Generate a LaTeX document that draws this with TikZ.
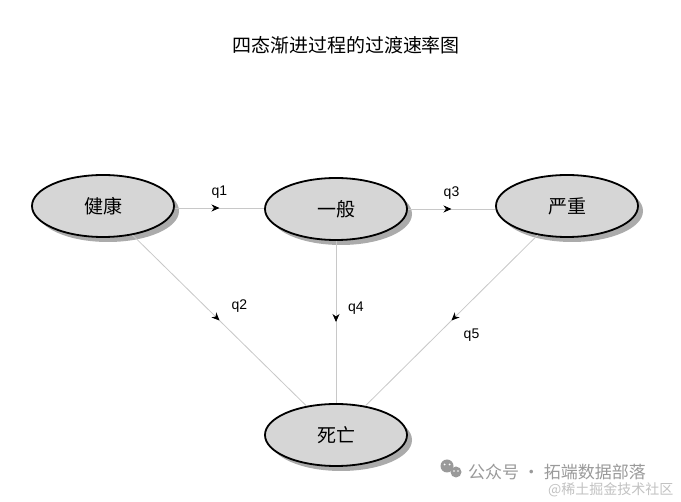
\documentclass[tikz,border=0pt]{standalone}
\usepackage{fontspec}
\setmainfont{Liberation Sans}
\newfontfamily\cjk{Noto Sans CJK SC}
\usetikzlibrary{shapes.geometric,shadows,arrows.meta,decorations.markings}
\definecolor{ellfill}{HTML}{D6D6D6}
\definecolor{shadowc}{HTML}{ABABAB}
\definecolor{linec}{HTML}{C8C8C8}
\definecolor{wmark}{HTML}{9A9A9A}
\tikzset{
  state/.style={ellipse, draw=black, line width=1.8pt, fill=ellfill,
    minimum width=142pt, minimum height=62pt, inner sep=0pt,
    font=\cjk\fontsize{19}{22}\selectfont,
    drop shadow={shadow xshift=5pt, shadow yshift=-5pt, fill=shadowc, opacity=1}},
  conn/.style={draw=linec, line width=0.8pt,
    postaction={decorate},
    decoration={markings, mark=at position 0.5 with {\arrow[black]{Stealth[length=8pt,width=7pt,inset=2.5pt]}}}},
  qlab/.style={font=\fontsize{14}{16}\selectfont, inner sep=0pt},
  titlestyle/.style={font=\cjk\fontsize{19}{22}\selectfont},
  wm/.style={text=wmark, inner sep=0pt}
}
\begin{document}
\begin{tikzpicture}[x=1pt,y=-1pt]
\useasboundingbox (0,0) rectangle (681,502);
\fill[white] (0,0) rectangle (681,502);

\node[titlestyle] (title) at (346,45) {四态渐进过程的过渡速率图};

\node[state] (jk) at (103,206) {健康};
\node[state] (yb) at (336,209) {一般};
\node[state] (yz) at (567,206) {严重};
\node[state] (sw) at (336,435) {死亡};

\draw[conn] (jk.east |- 0,208) -- (yb.west |- 0,208)
  node[qlab, pos=0.5, yshift=16pt] (q1) {q1};
\draw[conn] (yb.east |- 0,209) -- (yz.west |- 0,209)
  node[qlab, pos=0.5, yshift=16pt] (q3) {q3};
\draw[conn] (jk) -- (sw)
  node[qlab, pos=0.5, xshift=20pt, yshift=14pt] (q2) {q2};
\draw[conn] (yb) -- (sw)
  node[qlab, pos=0.5, xshift=20pt, yshift=14pt] (q4) {q4};
\draw[conn] (yz) -- (sw)
  node[qlab, pos=0.5, xshift=20pt, yshift=-15pt] (q5) {q5};

% watermark
\fill[wmark] (447,466) circle (6.5);
\fill[wmark] (456,472) circle (5.5);
\fill[white] (444.5,464.5) circle (1) (449.5,464.5) circle (1)
  (454,471) circle (0.8) (458,471) circle (0.8);
\node[wm, anchor=west, font=\cjk\fontsize{17}{20}\selectfont] (wm1) at (468,472) {公众号 · 拓端数据部落};
\node[wm, anchor=west, text=wmark!60, font=\cjk\fontsize{14}{16}\selectfont] (wm2) at (548,490) {@稀土掘金技术社区};
\end{tikzpicture}
\end{document}
